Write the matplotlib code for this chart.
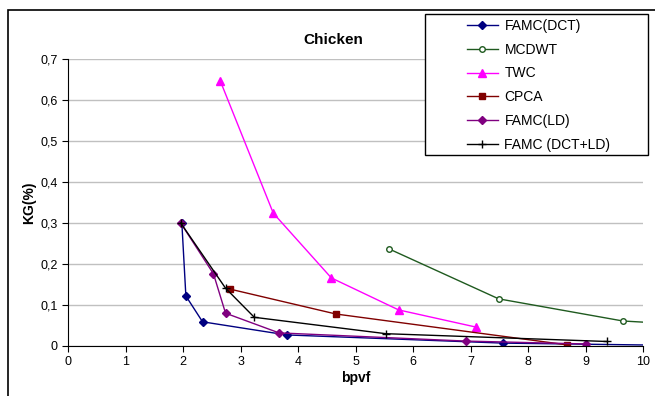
import matplotlib
matplotlib.use("Agg")
from matplotlib import pyplot as plt
from matplotlib.patches import Rectangle
from matplotlib.ticker import FuncFormatter

plt.rcParams['font.family'] = ['Liberation Sans', 'DejaVu Sans']

# data
famc_dct_x = [1.98, 2.05, 2.34, 3.80, 7.57, 10.3]
famc_dct_y = [0.300, 0.122, 0.059, 0.027, 0.007, 0.002]
mcdwt_x = [5.58, 7.49, 9.65, 10.4]
mcdwt_y = [0.237, 0.115, 0.061, 0.055]
twc_x = [2.65, 3.57, 4.58, 5.75, 7.10]
twc_y = [0.646, 0.324, 0.166, 0.088, 0.046]
cpca_x = [2.81, 4.66, 8.67]
cpca_y = [0.139, 0.078, 0.003]
famc_ld_x = [1.96, 2.53, 2.74, 3.67, 6.92, 9.0]
famc_ld_y = [0.300, 0.176, 0.080, 0.032, 0.012, 0.005]
famc_dctld_x = [1.96, 2.74, 3.24, 5.53, 9.37]
famc_dctld_y = [0.300, 0.141, 0.070, 0.030, 0.011]

W, H = 655, 396
fig = plt.figure(figsize=(W / 100, H / 100), dpi=100)
ax = fig.add_axes([68 / W, 50 / H, 575 / W, 287 / H])

# outer chart border
fig.patches.append(Rectangle((8 / W, -0.1), 1.2, 1 - 10 / H + 0.1, transform=fig.transFigure,
                             fill=False, edgecolor='black', linewidth=1.2))

series = [
    (famc_dct_x, famc_dct_y, 'FAMC(DCT)', '#000080', 'D', '#000080', 4),
    (mcdwt_x, mcdwt_y, 'MCDWT', '#1f5a1f', 'o', 'white', 4),
    (twc_x, twc_y, 'TWC', '#ff00ff', '^', '#ff00ff', 6),
    (cpca_x, cpca_y, 'CPCA', '#800000', 's', '#800000', 5),
    (famc_ld_x, famc_ld_y, 'FAMC(LD)', '#800080', 'D', '#800080', 4),
    (famc_dctld_x, famc_dctld_y, 'FAMC (DCT+LD)', 'black', '+', 'black', 6),
]
handles = []
for x, y, label, color, marker, face, size in series:
    h, = ax.plot(x, y, color=color, marker=marker, markerfacecolor=face,
                 markeredgecolor=color, markersize=size, linewidth=1, label=label)
    handles.append(h)

ax.set_xlim(0, 10)
ax.set_ylim(0, 0.7)
ax.set_xticks(range(0, 11))
ax.set_yticks([i / 10 for i in range(8)])
ax.yaxis.set_major_formatter(FuncFormatter(lambda v, p: '0' if v == 0 else f'{v:.1f}'.replace('.', ',')))
ax.grid(axis='y', color='#c0c0c0', linewidth=1)
ax.set_axisbelow(True)
for s in ['top', 'right']:
    ax.spines[s].set_visible(False)
ax.tick_params(direction='out', length=4, labelsize=9, colors='black')
fig.text(333 / W, 1 - 40 / H, 'Chicken', fontsize=11, fontweight='bold', ha='center', va='center')
ax.set_xlabel('bpvf', fontsize=10, fontweight='bold', labelpad=2)
ax.set_ylabel('KG(%)', fontsize=10, fontweight='bold', labelpad=3)

# legend box drawn as a figure patch, legend itself frameless inside it
box = Rectangle((425 / W, 1 - 155 / H), 223 / W, 141 / H, transform=fig.transFigure,
                facecolor='white', edgecolor='black', linewidth=1, zorder=9)
fig.patches.append(box)
leg = fig.legend(handles=handles, loc='upper left', bbox_to_anchor=(467 / W, 1 - 19 / H),
                 fontsize=10, frameon=False, labelspacing=0.7, handlelength=2.2,
                 handletextpad=0.5, borderpad=0, borderaxespad=0)
leg.set_zorder(10)

fig.savefig('out.png', dpi=100)
